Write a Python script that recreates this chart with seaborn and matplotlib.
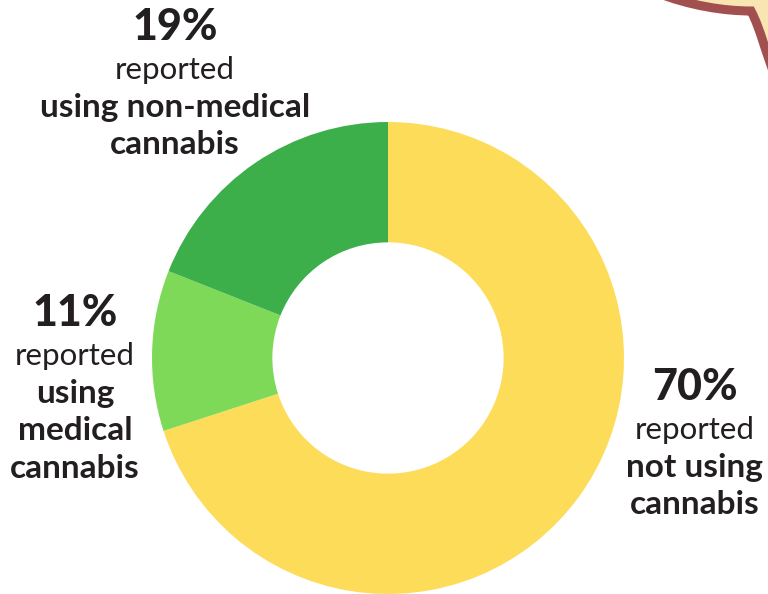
import matplotlib
matplotlib.use("Agg")
import matplotlib.pyplot as plt
from matplotlib.path import Path
from matplotlib.patches import PathPatch
import seaborn as sns

# Share of respondents by cannabis use
categories = ["not using cannabis", "using medical cannabis", "using non-medical cannabis"]
shares = [70, 11, 19]
colors = ["#fddc5a", "#7fd958", "#3caf4a"]

# Bold lines printed under "reported" for each segment
label_lines = [
    ["not using", "cannabis"],
    ["using", "medical", "cannabis"],
    ["using non-medical", "cannabis"],
]

sns.set_theme(style="white")
plt.rcParams["font.family"] = ["Lato", "DejaVu Sans"]

W, H = 768, 594
fig = plt.figure(figsize=(W / 100, H / 100), dpi=100)
fig.patch.set_facecolor("white")

# Donut centred at (388, 358) px with outer radius 236 px
cx, cy, r = 388, 358, 236
ax = fig.add_axes([(cx - r) / W, (H - cy - r) / H, 2 * r / W, 2 * r / H])
ax.pie(
    shares,
    colors=colors,
    startangle=90,
    counterclock=False,
    radius=1.0,
    wedgeprops=dict(width=0.51, edgecolor="none", linewidth=0),
)
ax.set_xlim(-1, 1)
ax.set_ylim(-1, 1)
ax.set_aspect("equal")
ax.axis("off")

# Speech-bubble corner in the top right
def px(x, y):
    return (x / W, 1 - y / H)

verts = [
    px(655, -8),
    px(690, 6), px(725, 11), px(751, 11),
    px(761, 30), px(765, 52), px(776, 78),
    px(790, 78),
    px(790, -20),
    px(655, -20),
    px(655, -8),
]
codes = [Path.MOVETO, Path.CURVE4, Path.CURVE4, Path.CURVE4,
         Path.CURVE4, Path.CURVE4, Path.CURVE4,
         Path.LINETO, Path.LINETO, Path.LINETO, Path.CLOSEPOLY]
bubble = PathPatch(Path(verts, codes), facecolor="#f8e5b2", edgecolor="#a24f50",
                   linewidth=6.5, joinstyle="miter", transform=fig.transFigure)
fig.add_artist(bubble)

# Text blocks: centre x and baseline of the percentage, in px
blocks = [(695, 400), (75, 326), (175, 40)]
first_gap = 39
step = 37.5
txt = "#231f20"
for (bx, by), share, lines in zip(blocks, shares, label_lines):
    fig.text(bx / W, 1 - by / H, f"{share}%", ha="center", va="baseline",
             fontsize=31, fontweight="black", color=txt)
    y = by + first_gap
    fig.text(bx / W, 1 - y / H, "reported", ha="center", va="baseline",
             fontsize=22.5, color=txt)
    for line in lines:
        y += step
        fig.text(bx / W, 1 - y / H, line, ha="center", va="baseline",
                 fontsize=24, fontweight="bold", color=txt)

fig.savefig("out.png", dpi=100)
